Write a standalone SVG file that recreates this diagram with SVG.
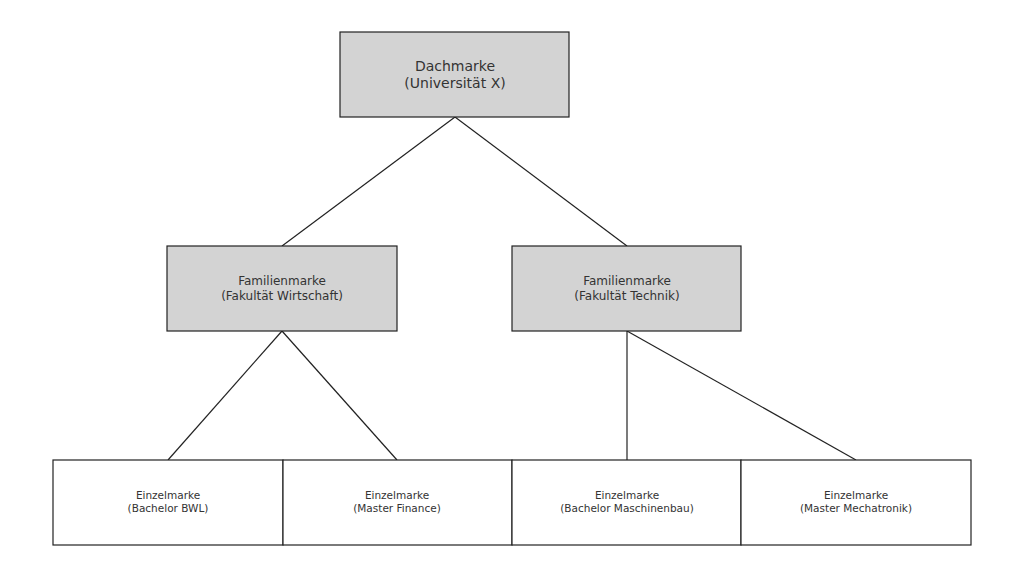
<svg xmlns="http://www.w3.org/2000/svg" width="1024" height="578" viewBox="0 0 1024 578">
<style>
.g{fill:#d3d3d3;stroke:#222;stroke-width:1.2}
.w{fill:#fff;stroke:#222;stroke-width:1.2}
text{font-family:"DejaVu Sans",sans-serif;fill:#333;text-anchor:middle}
.t1{font-size:14px}.t2{font-size:12px}.t3{font-size:10.5px}
#edges line{stroke:#222;stroke-width:1.2}
</style>
<rect width="1024" height="578" fill="#fff"/>
<g id="edges">
<line x1="455" y1="117" x2="282" y2="246"/>
<line x1="455" y1="117" x2="627" y2="246"/>
<line x1="282" y1="331" x2="168" y2="460"/>
<line x1="282" y1="331" x2="397" y2="460"/>
<line x1="627" y1="331" x2="627" y2="460"/>
<line x1="627" y1="331" x2="856" y2="460"/>
</g>
<g id="dach"><rect class="g" x="340" y="32" width="229" height="85"/><text class="t1" x="455" y="71">Dachmarke</text><text class="t1" x="455" y="88">(Universität X)</text></g>
<g id="fam1"><rect class="g" x="167" y="246" width="230" height="85"/><text class="t2" x="282" y="285">Familienmarke</text><text class="t2" x="282" y="300">(Fakultät Wirtschaft)</text></g>
<g id="fam2"><rect class="g" x="512" y="246" width="229" height="85"/><text class="t2" x="627" y="285">Familienmarke</text><text class="t2" x="627" y="300">(Fakultät Technik)</text></g>
<g id="e1"><rect class="w" x="53" y="460" width="230" height="85"/><text class="t3" x="168" y="499">Einzelmarke</text><text class="t3" x="168" y="512">(Bachelor BWL)</text></g>
<g id="e2"><rect class="w" x="283" y="460" width="229" height="85"/><text class="t3" x="397" y="499">Einzelmarke</text><text class="t3" x="397" y="512">(Master Finance)</text></g>
<g id="e3"><rect class="w" x="512" y="460" width="229" height="85"/><text class="t3" x="627" y="499">Einzelmarke</text><text class="t3" x="627" y="512">(Bachelor Maschinenbau)</text></g>
<g id="e4"><rect class="w" x="741" y="460" width="230" height="85"/><text class="t3" x="856" y="499">Einzelmarke</text><text class="t3" x="856" y="512">(Master Mechatronik)</text></g>
</svg>
